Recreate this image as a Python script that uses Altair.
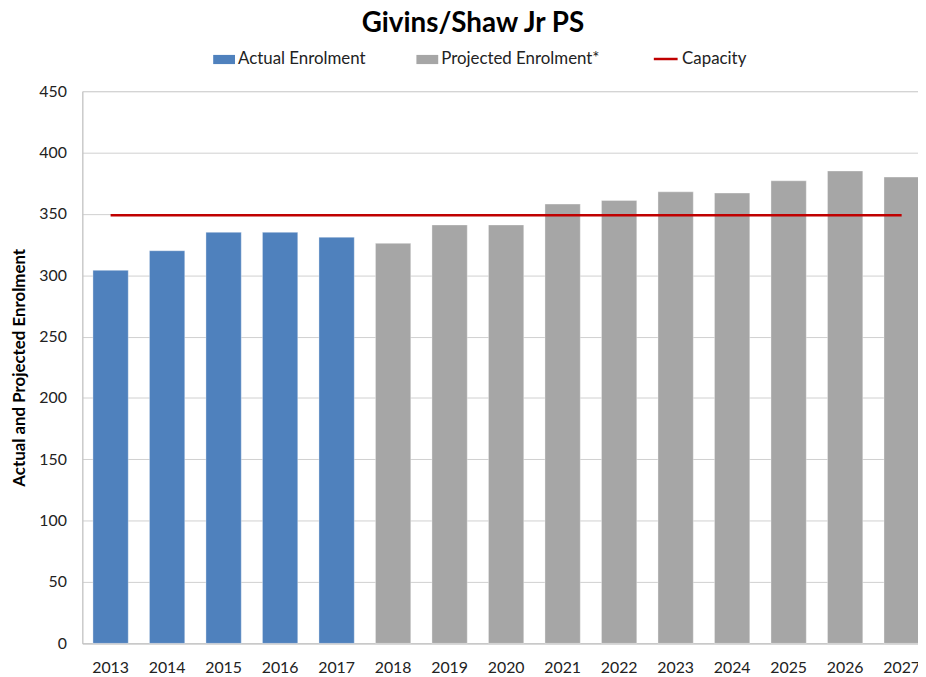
import altair as alt
import pandas as pd

title_text = "Givins/Shaw Jr PS"
years = [str(y) for y in range(2013, 2028)]
actual = [304, 320, 335, 335, 331]
projected = [326, 341, 341, 358, 361, 368, 367, 377, 385, 380]
capacity = [349] * 15

bar_names = ["Actual Enrolment", "Projected Enrolment*"]
bar_colors = ["#4F81BD", "#A6A6A6"]
line_names = ["Capacity"]
line_colors = ["#C00000"]

bars = pd.DataFrame({
    "year": years,
    "value": actual + projected,
    "series": [bar_names[0]] * len(actual) + [bar_names[1]] * len(projected),
})
cap = pd.DataFrame({"year": years, "value": capacity, "series": line_names[0]})
ttl = pd.DataFrame({"t": [title_text]})

FONT = "Lato"
x_enc = alt.X("year:N", title=None, sort=years,
              scale=alt.Scale(range=[0, 855], paddingInner=0.375, paddingOuter=0.1875),
              axis=alt.Axis(labelAngle=0, labelFont=FONT, labelFontSize=16, labelColor="#222222",
                            ticks=False, labelPadding=16, domainColor="#BFBFBF", grid=False))
y_enc = alt.Y("value:Q", title="Actual and Projected Enrolment",
              scale=alt.Scale(domain=[0, 450], nice=False),
              axis=alt.Axis(values=list(range(0, 451, 50)), labelFont=FONT, labelFontSize=16,
                            labelColor="#222222", ticks=False, labelPadding=16,
                            domainColor="#BFBFBF", gridColor="#CFCFCF",
                            titleFont=FONT, titleFontSize=17, titleFontWeight="bold",
                            titleColor="#000000", titlePadding=11))

bar_legend = alt.Legend(
    title=None, orient="none", legendX=132, legendY=-43, direction="horizontal",
    labelFont=FONT, labelFontSize=17, labelColor="#222222", columnPadding=51,
    symbolType="M-1,-0.42H1V0.42H-1Z", symbolSize=484, symbolStrokeWidth=0, labelOffset=3,
)
line_legend = alt.Legend(
    title=None, orient="none", legendX=575, legendY=-46, direction="horizontal",
    labelFont=FONT, labelFontSize=17, labelColor="#222222",
    symbolType="stroke", symbolSize=576, symbolStrokeWidth=2.5, labelOffset=3,
)

bar_layer = alt.Chart(bars).mark_bar(strokeWidth=1, strokeOpacity=0.35, stroke="#FFFFFF").encode(
    x=x_enc, y=y_enc,
    fill=alt.Fill("series:N", scale=alt.Scale(domain=bar_names, range=bar_colors), legend=bar_legend),
)
line_layer = alt.Chart(cap).mark_line(strokeWidth=2.5).encode(
    x=alt.X("year:N", sort=years), y=alt.Y("value:Q"),
    stroke=alt.Stroke("series:N", scale=alt.Scale(domain=line_names, range=line_colors), legend=line_legend),
)
title_layer = alt.Chart(ttl).mark_text(
    font=FONT, fontSize=28, fontWeight="bold", color="#000000",
    align="center", baseline="alphabetic",
).encode(text="t:N", x=alt.value(394), y=alt.value(-60))

chart = alt.layer(bar_layer, line_layer, title_layer).resolve_scale(
    fill="independent", stroke="independent"
).properties(
    width=843, height=557,
    autosize=alt.AutoSizeParams(type="none"),
    padding={"left": 75, "top": 81, "right": 0, "bottom": 33},
).configure_view(stroke=None).configure(background="white")

chart.save("out.html", embed_options={"renderer": "svg", "actions": False})
